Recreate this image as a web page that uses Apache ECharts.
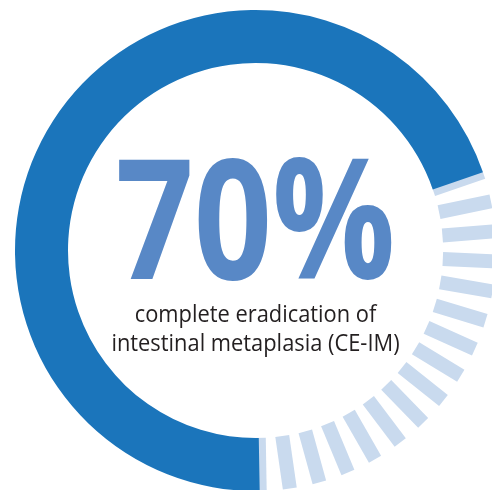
<!DOCTYPE html>
<html>
<head>
<meta charset="utf-8">
<script src="https://cdn.jsdelivr.net/npm/echarts@6/dist/echarts.min.js"></script>
<style>
  html, body { margin: 0; padding: 0; background: #ffffff; }
  #chart { width: 492px; height: 490px; }
</style>
</head>
<body>
<div id="chart"></div>
<script>
// Share of patients reaching the outcome, out of 100%
const achievedPct = 70;
const totalPct = 100;
// Caption under the big number
const captionLines = ['complete eradication of', 'intestinal metaplasia (CE-IM)'];
// One dash in the unfilled part of the ring every 2 percentage points
const dashStep = 2;

// Ring geometry and colours
const cx = 255.5, cy = 250.5;
const rOuter = 240.5, ringWidth = 53;
const startAngle = 271;          // filled arc starts just right of 6 o'clock and runs clockwise
const fillColor = '#1b75bb';
const dashColor = '#c9daee';
const numberColor = '#5888c6';
const captionColor = '#231f20';

const chart = echarts.init(document.getElementById('chart'), null, { renderer: 'canvas' });

chart.setOption({
  animation: false,
  series: [
    {
      // dashed track for the remaining share
      type: 'gauge',
      center: [cx, cy],
      radius: rOuter,
      startAngle: startAngle,
      endAngle: startAngle - 360,
      clockwise: true,
      min: 0,
      max: totalPct,
      splitNumber: totalPct / dashStep,
      axisLine: {
        show: false,
        lineStyle: {
          width: ringWidth,
          color: [
            [(achievedPct - dashStep / 2) / totalPct, 'rgba(0,0,0,0)'],
            [1, dashColor]
          ]
        }
      },
      splitLine: {
        show: true,
        distance: -ringWidth,
        length: ringWidth,
        lineStyle: { color: 'auto', width: 14 }
      },
      axisTick: { show: false },
      axisLabel: { show: false },
      pointer: { show: false },
      anchor: { show: false },
      title: { show: false },
      detail: { show: false },
      silent: true,
      z: 1,
      data: [{ value: achievedPct }]
    },
    {
      // solid arc for the achieved share
      type: 'pie',
      center: [cx, cy],
      radius: [rOuter - ringWidth, rOuter],
      startAngle: startAngle,
      clockwise: true,
      silent: true,
      label: { show: false },
      labelLine: { show: false },
      emphasis: { disabled: true },
      z: 3,
      data: [
        { value: achievedPct, itemStyle: { color: fillColor } },
        { value: totalPct - achievedPct, itemStyle: { color: 'rgba(0,0,0,0)' } }
      ]
    }
  ],
  graphic: [
    {
      type: 'text',
      x: cx,
      y: 231,
      scaleX: 0.82,
      silent: true,
      style: {
        text: achievedPct + '%',
        font: 'bold 167px "Open Sans"',
        fill: numberColor,
        align: 'center',
        verticalAlign: 'middle'
      }
    },
    {
      type: 'text',
      x: cx,
      y: 315.5,
      scaleX: 0.95,
      silent: true,
      style: {
        text: captionLines[0],
        font: '23px "Open Sans"',
        fill: captionColor,
        align: 'center',
        verticalAlign: 'middle'
      }
    },
    {
      type: 'text',
      x: cx,
      y: 344.5,
      scaleX: 0.95,
      silent: true,
      style: {
        text: captionLines[1],
        font: '23px "Open Sans"',
        fill: captionColor,
        align: 'center',
        verticalAlign: 'middle'
      }
    }
  ]
});
</script>
</body>
</html>
